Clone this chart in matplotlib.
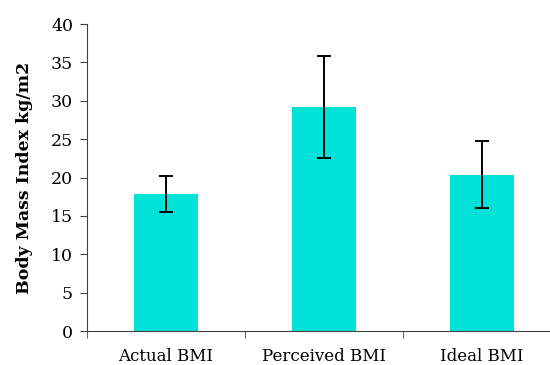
import numpy as np
import matplotlib
matplotlib.use('Agg')  # noqa
import matplotlib.pyplot as plt  # noqa

categories = ['Actual BMI', 'Perceived BMI', 'Ideal BMI']
means = [17.9, 29.2, 20.4]
errors = [2.35, 6.65, 4.35]

BAR_COLOR = '#00E2D7'
AXIS_COLOR = '#404040'

plt.rcParams['font.family'] = ['DejaVu Serif']

fig = plt.figure(figsize=(5.5, 3.65), dpi=100)
# axes run a little past the right edge, as in the original
ax = fig.add_axes([0.158, 0.093, 0.862, 0.841])

x = np.arange(len(categories))
ax.bar(x, means, width=0.41, color=BAR_COLOR, zorder=2)
ax.errorbar(x, means, yerr=errors, fmt='none', ecolor='black',
            elinewidth=1.4, capsize=5, capthick=1.4, zorder=3)

ax.set_xlim(-0.5, len(categories) - 0.5)
ax.set_ylim(0, 40)
ax.set_yticks(range(0, 41, 5))
ax.set_xticks(x)
ax.set_xticklabels(categories)
ax.set_xticks(np.arange(-0.5, len(categories), 1.0), minor=True)
ax.tick_params(axis='x', which='major', length=0, pad=12, labelsize=12)
ax.tick_params(axis='x', which='minor', length=5, color=AXIS_COLOR,
               direction='out')
ax.tick_params(axis='y', length=5, color=AXIS_COLOR, labelsize=12.5,
               direction='out', pad=5)

for side in ('top', 'right'):
    ax.spines[side].set_visible(False)
for side in ('left', 'bottom'):
    ax.spines[side].set_color(AXIS_COLOR)

ax.set_ylabel('Body Mass Index kg/m2', fontsize=12.5, fontweight='bold',
              labelpad=13)

fig.savefig('out.png')
